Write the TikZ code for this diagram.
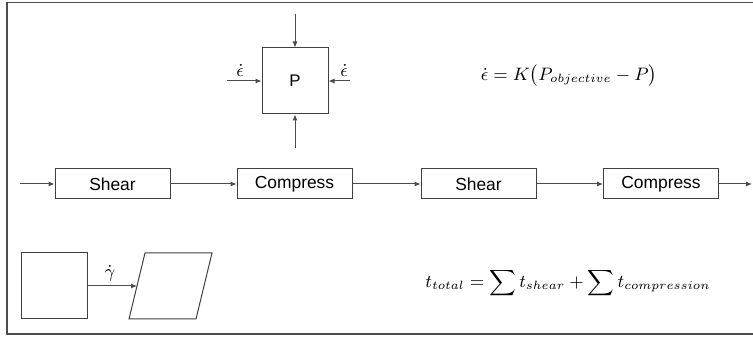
\documentclass[tikz,border=0pt]{standalone}
\usepackage{amsmath}
\usepackage{fontspec}
\setsansfont{Liberation Sans}
\usetikzlibrary{positioning,arrows.meta}
\DeclareMathSizes{9}{9}{5.9}{4.4}

\begin{document}
\begin{tikzpicture}[x=0.5pt,y=-0.5pt, line width=0.5pt]
\tikzstyle{stage}=[draw=black!75, rectangle, minimum width=57.5pt, minimum height=15pt, inner sep=0pt, font=\sffamily\fontsize{8.7}{10}\selectfont]
\tikzstyle{cell}=[draw=black!75, rectangle, minimum size=33pt, inner sep=0pt, font=\sffamily\fontsize{8.4}{10}\selectfont]
\tikzstyle{flow}=[draw=black!70, -{Latex[length=3pt,width=2.6pt]}]
\tikzstyle{eqn}=[inner sep=0pt, font=\fontsize{9}{11}\selectfont]
\useasboundingbox (0,0) rectangle (753,340);
% frame
\draw[black!70, line width=0.8pt] (753,2.5) -- (7,2.5) -- (7,334) -- (753,334);
% pressure cell
\node[cell] (cell) at (295,81) {P};
\coordinate (top) at (295,14);
\coordinate (bot) at (295,148);
\coordinate (lft) at (227,81);
\coordinate (rgt) at (350,81);
\node[eqn] (el) at (240,70) {$\dot{\epsilon}$};
\node[eqn] (er) at (344,70) {$\dot{\epsilon}$};
\node[eqn] (rate) at (569,76) {$\dot{\epsilon} = K\bigl(P_{objective} - P\bigr)$};
% process chain
\node[stage] (sh1) at (112.5,184) {Shear};
\node[stage] (cp1) at (294.5,184) {Compress};
\node[stage] (sh2) at (478.5,184) {Shear};
\node[stage] (cp2) at (661,184) {Compress};
\coordinate (in) at (20,184);
\coordinate (out) at (752,184);
% simple shear
\node[cell] (sq) at (54.5,286) {};
\draw[black!75] (145,253) -- (212,253) -- (196,319) -- (129,319) -- cycle;
\coordinate (para) at (137,286);
\node[eqn] (gd) at (110,273) {$\dot{\gamma}$};
\node[eqn] (ttot) at (568,283) {$\displaystyle t_{total} = \sum t_{shear} + \sum t_{compression}$};
\foreach \i/\j in {top/cell,bot/cell,lft/cell,rgt/cell,in/sh1,sh1/cp1,cp1/sh2,sh2/cp2,cp2/out,sq/para}{\draw[flow] (\i) -- (\j);}
\end{tikzpicture}
\end{document}
